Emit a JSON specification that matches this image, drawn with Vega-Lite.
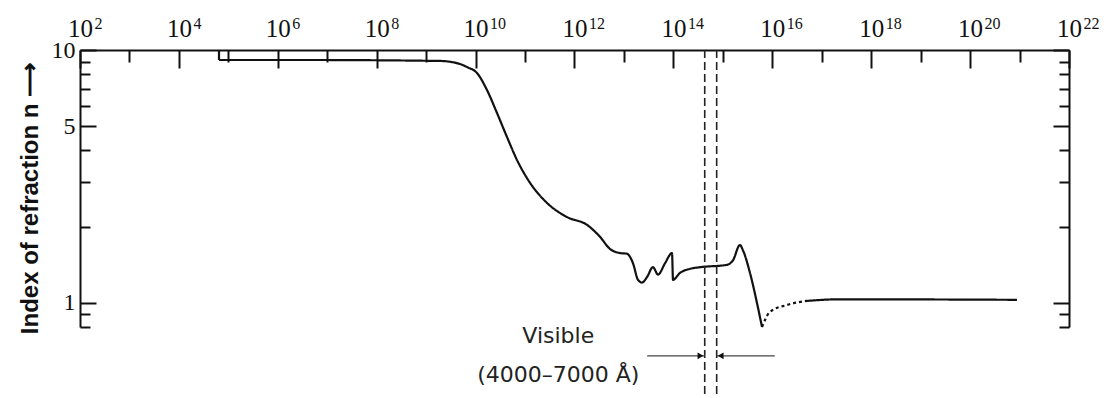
{
  "$schema": "https://vega.github.io/schema/vega-lite/v6.json",
  "width": 989,
  "height": 277,
  "autosize": {"type": "none"},
  "padding": {"left": 80, "top": 50, "right": 37, "bottom": 71},
  "background": "white",
  "config": {
    "view": {"stroke": null},
    "axis": {"domainColor": "#111", "domainWidth": 2, "tickColor": "#111", "tickWidth": 2, "grid": false, "labelColor": "#111", "labelOverlap": false, "labelFlush": false, "labelBound": false}
  },
  "datasets": {
    "curve": [
      {"i": 0, "f": 6.47e4, "n": 10, "seg": "s"},
      {"i": 1, "f": 6.47e4, "n": 9.13, "seg": "s"},
      {"i": 1, "f": 6.47e4, "n": 9.13, "seg": "a"},
      {"i": 2, "f": 2.81e6, "n": 9.13, "seg": "a"},
      {"i": 3, "f": 1.905e9, "n": 9.05, "seg": "a"},
      {"i": 4, "f": 4.83e9, "n": 8.8, "seg": "a"},
      {"i": 5, "f": 6.7e9, "n": 8.56, "seg": "a"},
      {"i": 6, "f": 1.067e10, "n": 8.11, "seg": "a"},
      {"i": 7, "f": 1.7e10, "n": 6.94, "seg": "a"},
      {"i": 8, "f": 2.71e10, "n": 5.63, "seg": "a"},
      {"i": 9, "f": 4.32e10, "n": 4.52, "seg": "a"},
      {"i": 10, "f": 6.87e10, "n": 3.67, "seg": "a"},
      {"i": 11, "f": 1.259e11, "n": 2.98, "seg": "a"},
      {"i": 12, "f": 2.78e11, "n": 2.48, "seg": "a"},
      {"i": 13, "f": 7.05e11, "n": 2.18, "seg": "a"},
      {"i": 14, "f": 1.79e12, "n": 2.03, "seg": "a"},
      {"i": 15, "f": 3.28e12, "n": 1.82, "seg": "a"},
      {"i": 16, "f": 5.22e12, "n": 1.63, "seg": "a"},
      {"i": 17, "f": 8.32e12, "n": 1.57, "seg": "a"},
      {"i": 18, "f": 1.153e13, "n": 1.56, "seg": "a"},
      {"i": 19, "f": 1.524e13, "n": 1.43, "seg": "a"},
      {"i": 20, "f": 1.923e13, "n": 1.23, "seg": "a"},
      {"i": 21, "f": 2.317e13, "n": 1.2, "seg": "a"},
      {"i": 22, "f": 2.92e13, "n": 1.26, "seg": "a"},
      {"i": 23, "f": 3.86e13, "n": 1.38, "seg": "a"},
      {"i": 24, "f": 4.89e13, "n": 1.29, "seg": "a"},
      {"i": 25, "f": 6.76e13, "n": 1.43, "seg": "a"},
      {"i": 26, "f": 9.38e13, "n": 1.57, "seg": "a"},
      {"i": 27, "f": 9.82e13, "n": 1.23, "seg": "a"},
      {"i": 28, "f": 1.358e14, "n": 1.31, "seg": "a"},
      {"i": 29, "f": 2.17e14, "n": 1.36, "seg": "a"},
      {"i": 30, "f": 3.45e14, "n": 1.38, "seg": "a"},
      {"i": 31, "f": 1.213e15, "n": 1.41, "seg": "a"},
      {"i": 32, "f": 1.603e15, "n": 1.47, "seg": "a"},
      {"i": 33, "f": 2.22e15, "n": 1.69, "seg": "a"},
      {"i": 34, "f": 2.55e15, "n": 1.61, "seg": "a"},
      {"i": 35, "f": 3.54e15, "n": 1.31, "seg": "a"},
      {"i": 36, "f": 4.9e15, "n": 0.996, "seg": "a"},
      {"i": 37, "f": 6.19e15, "n": 0.8, "seg": "a"},
      {"i": 38, "f": 6.19e15, "n": 0.8, "seg": "b"},
      {"i": 39, "f": 8.97e15, "n": 0.918, "seg": "b"},
      {"i": 40, "f": 1.98e16, "n": 0.978, "seg": "b"},
      {"i": 41, "f": 5.04e16, "n": 1.015, "seg": "b"},
      {"i": 42, "f": 5.04e16, "n": 1.015, "seg": "c"},
      {"i": 43, "f": 2.34e17, "n": 1.03, "seg": "c"},
      {"i": 44, "f": 8.87e20, "n": 1.025, "seg": "c"}
    ],
    "visible": [
      {"f": 4.3e14, "top": 10, "bottom": 0.419},
      {"f": 7.5e14, "top": 10, "bottom": 0.419}
    ],
    "arrows": [
      {"from": 2.95e13, "to": 4.3e14, "n": 0.615},
      {"from": 7.5e14, "to": 1.12e16, "n": 0.615}
    ],
    "heads": [
      {"f": 3.53e14, "n": 0.615, "dir": "right"},
      {"f": 9.04e14, "n": 0.615, "dir": "left"}
    ],
    "labels": [
      {"f": 4.7e11, "n": 0.738, "text": "Visible"},
      {"f": 4.7e11, "n": 0.516, "text": "(4000–7000 Å)"}
    ]
  },
  "resolve": {"axis": {"x": "independent", "y": "independent"}},
  "layer": [
    {
      "data": {"name": "curve"},
      "mark": {"type": "line", "color": "#111", "strokeWidth": 2.2, "interpolate": "monotone"},
      "encoding": {
        "x": {
          "field": "f", "type": "quantitative",
          "scale": {"type": "log", "domain": [1e2, 1e22], "nice": false},
          "axis": {
            "orient": "top", "title": null,
            "values": [1e2,1e4,1e6,1e8,1e10,1e12,1e14,1e16,1e18,1e20,1e22],
            "labelExpr": "'10'",
            "tickSize": -18,
            "labelPadding": 27,
            "labelFont": "Liberation Serif", "labelFontSize": 25
          }
        },
        "y": {
          "field": "n", "type": "quantitative",
          "scale": {"type": "log", "domain": [0.8, 10], "nice": false},
          "axis": {
            "orient": "left",
            "values": [1, 5, 10],
            "labelExpr": "datum.value",
            "tickSize": -16,
            "labelPadding": 21,
            "labelFont": "Liberation Serif", "labelFontSize": 24,
            "title": "Index of refraction n ⟶",
            "titleFont": "Liberation Sans", "titleFontSize": 24, "titleFontWeight": "bold",
            "titleColor": "#111",
            "titleX": -43, "titleY": 148, "titleAngle": -90, "titleAlign": "center", "titleBaseline": "alphabetic"
          }
        },
        "strokeDash": {
          "field": "seg", "type": "nominal",
          "scale": {"domain": ["s","a","b","c"], "range": [[1,0],[1,0],[3,3],[1,0]]},
          "legend": null
        },
        "order": {"field": "i", "type": "quantitative"}
      }
    },
    {
      "data": {"name": "visible"},
      "mark": {"type": "rule", "color": "#222", "strokeWidth": 1.6, "strokeDash": [8, 4]},
      "encoding": {
        "x": {
          "field": "f", "type": "quantitative",
          "scale": {"type": "log", "domain": [1e2, 1e22], "nice": false},
          "axis": {
            "orient": "top", "title": null, "labels": false, "domain": false,
            "values": [1e3,1e5,1e7,1e9,1e11,1e13,1e15,1e17,1e19,1e21],
            "tickSize": -12
          }
        },
        "y": {
          "field": "top", "type": "quantitative",
          "scale": {"type": "log", "domain": [0.8, 10], "nice": false},
          "axis": {
            "orient": "right", "title": null, "labels": false,
            "values": [1, 5, 10],
            "tickSize": -16
          }
        },
        "y2": {"field": "bottom"}
      }
    },
    {
      "data": {"name": "arrows"},
      "mark": {"type": "rule", "color": "#444", "strokeWidth": 1.3},
      "encoding": {
        "x": {
          "field": "from", "type": "quantitative",
          "scale": {"type": "log", "domain": [1e2, 1e22], "nice": false},
          "axis": {
            "orient": "top", "title": null, "domain": false, "ticks": false,
            "values": [1e2,1e4,1e6,1e8,1e10,1e12,1e14,1e16,1e18,1e20,1e22],
            "labelExpr": "'' + round(log(datum.value)/LN10)",
            "labelPadding": 19,
            "labelOffset": 14,
            "labelAlign": "left",
            "labelFont": "Liberation Serif", "labelFontSize": 16
          }
        },
        "x2": {"field": "to"},
        "y": {
          "field": "n", "type": "quantitative",
          "scale": {"type": "log", "domain": [0.8, 10], "nice": false},
          "axis": {
            "orient": "left", "title": null, "labels": false, "domain": false,
            "values": [0.8, 0.9, 2, 3, 4, 6, 7, 8, 9],
            "tickSize": -10
          }
        }
      }
    },
    {
      "data": {"name": "heads"},
      "mark": {"type": "point", "filled": true, "color": "#111", "size": 45, "opacity": 1},
      "encoding": {
        "x": {"field": "f", "type": "quantitative", "scale": {"type": "log", "domain": [1e2, 1e22], "nice": false}, "axis": null},
        "y": {
          "field": "n", "type": "quantitative",
          "scale": {"type": "log", "domain": [0.8, 10], "nice": false},
          "axis": {
            "orient": "right", "title": null, "labels": false, "domain": false,
            "values": [0.8, 0.9, 2, 3, 4, 6, 7, 8, 9],
            "tickSize": -10
          }
        },
        "shape": {"field": "dir", "type": "nominal", "scale": {"domain": ["right","left"], "range": ["triangle-right","triangle-left"]}, "legend": null}
      }
    },
    {
      "data": {"name": "labels"},
      "mark": {"type": "text", "font": "DejaVu Sans", "fontSize": 22, "color": "#222", "align": "center", "baseline": "middle"},
      "encoding": {
        "x": {"field": "f", "type": "quantitative", "scale": {"type": "log", "domain": [1e2, 1e22], "nice": false}, "axis": null},
        "y": {"field": "n", "type": "quantitative", "scale": {"type": "log", "domain": [0.8, 10], "nice": false}, "axis": null},
        "text": {"field": "text"}
      }
    }
  ]
}
